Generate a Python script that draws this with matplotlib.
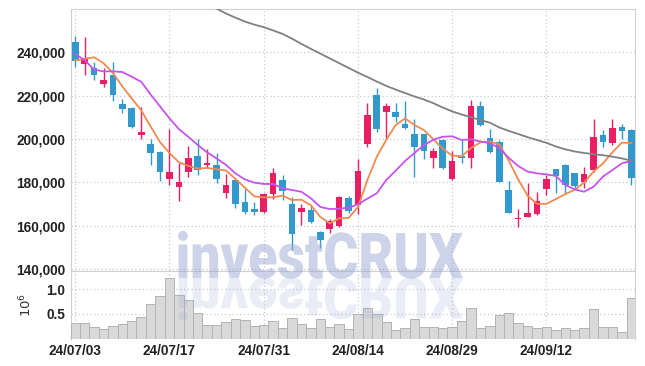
import numpy as np
import matplotlib
matplotlib.use("Agg")
import matplotlib.pyplot as plt
from matplotlib.textpath import TextPath
from matplotlib.patches import PathPatch
from matplotlib.font_manager import FontProperties
from matplotlib.transforms import Affine2D

# trading days (yy/mm/dd)
dates = ["24/07/03", "24/07/04", "24/07/05", "24/07/08", "24/07/09", "24/07/10", "24/07/11", "24/07/12",
         "24/07/15", "24/07/16", "24/07/17", "24/07/18", "24/07/19", "24/07/22", "24/07/23", "24/07/24",
         "24/07/25", "24/07/26", "24/07/29", "24/07/30", "24/07/31", "24/08/01", "24/08/02", "24/08/05",
         "24/08/06", "24/08/07", "24/08/08", "24/08/09", "24/08/12", "24/08/13", "24/08/14", "24/08/16",
         "24/08/19", "24/08/20", "24/08/21", "24/08/22", "24/08/23", "24/08/26", "24/08/27", "24/08/28",
         "24/08/29", "24/08/30", "24/09/02", "24/09/03", "24/09/04", "24/09/05", "24/09/06", "24/09/09",
         "24/09/10", "24/09/11", "24/09/12", "24/09/13", "24/09/19", "24/09/20", "24/09/23", "24/09/24",
         "24/09/25", "24/09/26", "24/09/27", "24/09/30"]

# prices in thousands of won
opens = [244.8, 234.7, 232.6, 225.4, 229.5, 216.1, 214.3, 201.9, 197.6, 194.0,
         181.6, 177.9, 184.9, 192.1, 188.0, 188.0, 174.8, 181.0, 170.9, 167.8,
         166.4, 174.6, 181.0, 169.9, 166.1, 167.3, 156.9, 158.2, 159.8, 172.7,
         169.5, 197.5, 220.3, 212.6, 212.4, 207.0, 202.3, 202.3, 191.0, 199.3,
         181.3, 192.0, 191.0, 215.2, 200.5, 198.5, 176.4, 162.9, 163.9, 165.2,
         177.0, 186.1, 188.0, 184.2, 180.1, 185.5, 201.9, 197.9, 205.7, 204.1]
closes = [236.1, 237.0, 229.7, 227.2, 220.3, 213.8, 205.5, 203.3, 193.6, 184.9,
          184.7, 180.1, 191.3, 185.6, 189.0, 181.5, 178.5, 170.1, 166.4, 166.4,
          174.6, 184.4, 175.9, 156.2, 168.1, 161.5, 153.4, 162.3, 173.0, 166.8,
          185.3, 211.0, 204.8, 215.2, 210.3, 205.2, 196.4, 194.4, 194.4, 186.4,
          189.8, 191.0, 215.2, 206.4, 194.0, 180.0, 165.6, 163.3, 165.6, 171.5,
          181.5, 183.0, 178.5, 178.2, 183.9, 200.8, 198.4, 205.2, 203.6, 181.9]
highs = [247.5, 247.0, 235.7, 232.6, 235.4, 218.3, 214.6, 214.6, 200.0, 194.3,
         204.4, 188.7, 196.7, 199.8, 195.3, 193.4, 183.7, 181.5, 176.8, 170.7,
         174.8, 186.7, 183.3, 173.0, 169.9, 169.3, 157.6, 163.1, 173.5, 173.5,
         190.5, 216.7, 223.4, 216.7, 216.4, 217.6, 209.0, 202.5, 195.7, 199.8,
         194.4, 199.3, 218.0, 217.6, 204.4, 199.5, 180.7, 167.8, 179.5, 175.5,
         183.3, 186.3, 188.2, 184.4, 187.2, 209.0, 204.3, 209.4, 207.0, 204.5]
lows = [233.0, 229.5, 227.2, 223.8, 217.6, 211.8, 205.2, 199.8, 188.0, 180.7,
        178.7, 171.3, 182.5, 183.3, 186.4, 179.8, 172.7, 168.0, 165.3, 165.0,
        165.6, 172.2, 171.8, 148.7, 160.4, 161.0, 149.5, 156.7, 159.3, 166.0,
        165.5, 196.2, 203.2, 200.0, 208.0, 204.8, 182.5, 190.6, 186.4, 186.0,
        180.8, 189.0, 186.4, 205.8, 193.5, 180.0, 165.6, 159.1, 163.9, 164.8,
        173.9, 175.2, 175.0, 177.0, 177.3, 184.8, 196.2, 197.4, 200.0, 178.7]

ma_short = [236.3, 237.0, 237.7, 235.0, 230.5, 224.2, 218.7, 213.2, 205.7, 198.5,
            193.5, 189.2, 187.5, 186.3, 186.6, 186.0, 185.4, 181.5, 177.5, 173.5,
            173.0, 173.0, 173.8, 171.8, 171.9, 169.4, 164.0, 161.0, 163.3, 163.5,
            168.5, 181.0, 191.8, 199.5, 206.4, 209.5, 206.4, 204.1, 199.8, 195.5,
            192.3, 192.0, 195.8, 198.4, 198.8, 197.4, 190.0, 181.3, 173.8, 170.0,
            170.0, 172.2, 174.5, 176.5, 179.8, 184.9, 188.7, 193.8, 198.3, 198.1]
ma_mid = [239.2, 236.4, 232.0, 231.2, 231.2, 230.9, 228.7, 226.4, 220.5, 215.0,
          209.5, 204.5, 201.0, 197.2, 193.8, 191.0, 188.0, 184.1, 181.3, 179.8,
          179.2, 179.2, 177.2, 176.4, 175.6, 172.6, 168.6, 167.6, 167.8, 168.2,
          169.8, 172.4, 174.9, 181.0, 185.3, 189.8, 193.5, 197.2, 199.6, 201.0,
          201.2, 199.5, 199.8, 198.8, 198.0, 195.8, 191.3, 187.5, 184.9, 184.1,
          183.6, 182.9, 178.7, 176.7, 175.6, 177.9, 182.6, 185.6, 188.7, 189.8]
ma_long = [None] * 14 + [
           261.2, 260.2, 257.9, 256.0, 254.2, 252.8,
           251.6, 250.1, 248.5, 246.3, 243.9, 241.6, 239.4, 237.2, 235.0, 232.8,
           230.6, 228.6, 226.5, 224.5, 222.8, 221.2, 219.6, 218.2, 216.5, 214.5,
           212.7, 211.3, 210.0, 208.7, 207.5, 205.3, 203.7, 202.3, 200.8, 199.5,
           198.2, 196.5, 195.2, 194.2, 193.5, 193.0, 192.5, 191.8, 191.0, 190.0]

# volume in millions of shares
volume = [0.32, 0.32, 0.24, 0.20, 0.26, 0.30, 0.36, 0.44, 0.70, 0.86,
          1.23, 0.88, 0.78, 0.52, 0.28, 0.28, 0.34, 0.40, 0.38, 0.26,
          0.28, 0.36, 0.22, 0.42, 0.30, 0.22, 0.40, 0.23, 0.30, 0.19,
          0.50, 0.61, 0.49, 0.34, 0.17, 0.21, 0.39, 0.23, 0.23, 0.21,
          0.23, 0.35, 0.61, 0.21, 0.26, 0.48, 0.51, 0.31, 0.26, 0.22,
          0.23, 0.18, 0.21, 0.18, 0.21, 0.59, 0.23, 0.23, 0.14, 0.82]

price_ticks = [140000, 160000, 180000, 200000, 220000, 240000]
vol_ticks = [0.5, 1.0]

UP = "#e91e63"
DOWN = "#3399cc"
GRID = "#c5cadb"
SPINE = "#d0d0d0"
tick_font = ["Liberation Sans", "DejaVu Sans"]

x = np.arange(len(dates))
o = np.array(opens) * 1000
c = np.array(closes) * 1000
h = np.array(highs) * 1000
l = np.array(lows) * 1000
colors = [UP if cc >= oo else DOWN for oo, cc in zip(o, c)]

fig = plt.figure(figsize=(6.45, 3.66), dpi=100)
ax = fig.add_axes([71 / 645, 1 - 271 / 366, 564 / 645, 262 / 366])
axv = fig.add_axes([71 / 645, 1 - 338.5 / 366, 564 / 645, 67.5 / 366], sharex=ax)

# candles
ax.vlines(x, l, h, colors=colors, linewidth=1, zorder=3)
body = np.maximum(np.abs(c - o), 600)
ax.bar(x, body, bottom=np.minimum(o, c), width=0.7, color=colors, zorder=4)

# moving averages
ax.plot(x, np.array(ma_short) * 1000, color="#f08a50", lw=1.3, zorder=5)
ax.plot(x, np.array(ma_mid) * 1000, color="#c654ec", lw=1.3, zorder=5)
ma_long_arr = np.array([np.nan if v is None else v for v in ma_long]) * 1000
ax.plot(x, ma_long_arr, color="#808080", lw=1.3, zorder=5)

ax.set_ylim(139000, 260000)
ax.set_xlim(-0.45, 59.4)
ax.set_yticks(price_ticks)
ax.set_yticklabels([f"{t:,}" for t in price_ticks])

# volume
axv.bar(x, volume, width=1.0, color="#d9d9d9", edgecolor="#b3b3b3", linewidth=0.7, zorder=3)
axv.set_ylim(0, 1.37)
axv.set_yticks(vol_ticks)
axv.set_yticklabels(["0.5", "1.0"])
axv.set_ylabel(r"$10^{6}$", fontsize=9.5, color="#333333", labelpad=9)

tick_pos = x[::10]
axv.set_xticks(tick_pos)
axv.set_xticklabels([dates[i] for i in tick_pos])

for a in (ax, axv):
    a.grid(True, linestyle=(0, (1, 2)), color=GRID, linewidth=0.9)
    a.set_axisbelow(True)
    a.tick_params(length=0, pad=4, labelcolor="#222222")
    for lab in a.get_yticklabels() + a.get_xticklabels():
        lab.set_family(tick_font)
        lab.set_fontweight("bold")
        lab.set_fontsize(9.8)
    for s in a.spines.values():
        s.set_color(SPINE)
ax.tick_params(labelbottom=False)
axv.spines["bottom"].set_visible(False)

# watermark with reflection
fp = FontProperties(family=["Roboto", "DejaVu Sans"], weight="black")
tp = TextPath((0, 0), "investCRUX", size=1, prop=fp)
ext = tp.get_extents()
sx = 285 / ext.width
sy = 45 / 0.71
x0, base = 178, 366 - 278
t_main = Affine2D().translate(-ext.x0, 0).scale(sx / 645, sy / 366).translate(x0 / 645, base / 366) + fig.transFigure
t_refl = Affine2D().translate(-ext.x0, 0).scale(sx / 645, -0.9 * sy / 366).translate(x0 / 645, base / 366) + fig.transFigure
fig.patches.append(PathPatch(tp, transform=t_main, facecolor="#98a6d2", edgecolor="none", alpha=0.48, zorder=10))
fig.patches.append(PathPatch(tp, transform=t_refl, facecolor="#98a6d2", edgecolor="none", alpha=0.2, zorder=10))

fig.savefig("out.png", dpi=100)
